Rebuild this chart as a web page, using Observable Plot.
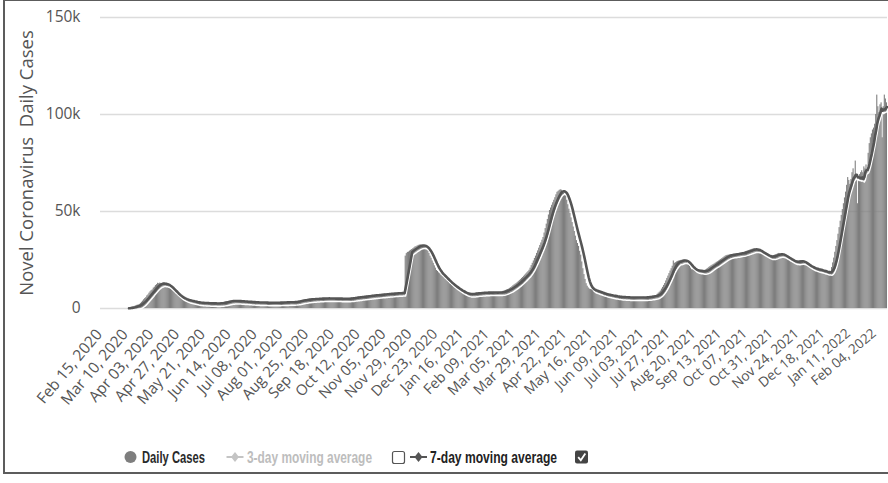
<!DOCTYPE html>
<html>
<head>
<meta charset="utf-8">
<script src="https://cdn.jsdelivr.net/npm/d3@7"></script>
<script src="https://cdn.jsdelivr.net/npm/@observablehq/plot@0.6"></script>
<style>
  html, body { margin: 0; padding: 0; background: #fff; }
  body { width: 888px; height: 483px; position: relative; overflow: hidden; font-family: "Open Sans", sans-serif; }
  #chart { position: absolute; left: 0; top: 0; }
  #ylabel { position: absolute; left: 25px; top: 163px; transform: translate(-50%, -50%) rotate(-90deg);
            white-space: pre; font-size: 18.5px; color: #555; font-family: "Open Sans", sans-serif; }
  #legend { position: absolute; left: 0; top: 432px; }
  #frame { position: absolute; left: 3px; top: -1px; width: 960px; height: 471px; border: 2px solid #5c5c5c; pointer-events: none; }
</style>
</head>
<body>
<div id="chart"></div>
<div id="ylabel"></div>
<svg id="legend" width="888" height="45"></svg>
<div id="frame"></div>
<script>
// ---- data (daily cases, thousands), one value per day from startDate ----
const startDate = "2020-03-12";
const dailyCases = [
  0.1, 0.2, 0.4, 0.6, 0.8, 1.0, 1.2,
  1.5, 1.7, 1.8, 2.0, 2.6, 3.2, 3.8,
  4.5, 5.1, 5.6, 6.5, 7.0, 7.9, 8.6,
  9.2, 9.6, 10.5, 11.0, 11.8, 12.3, 13.0,
  12.8, 13.1, 12.9, 12.7, 13.0, 12.5, 12.3,
  12.4, 11.8, 11.4, 10.6, 10.3, 9.5, 9.0,
  8.4, 7.9, 7.3, 6.9, 6.2, 5.8, 5.5,
  5.3, 5.0, 4.9, 4.6, 4.4, 4.2, 4.0,
  3.9, 3.8, 3.7, 3.6, 3.5, 3.3, 3.2,
  3.1, 3.0, 3.0, 2.9, 2.9, 2.9, 2.8,
  2.8, 2.8, 2.7, 2.7, 2.7, 2.7, 2.6,
  2.7, 2.6, 2.6, 2.6, 2.6, 2.6, 2.6,
  2.7, 2.8, 2.9, 3.0, 3.1, 3.2, 3.4,
  3.5, 3.6, 3.7, 3.8, 3.9, 4.0, 4.0,
  3.9, 3.9, 3.8, 3.8, 3.7, 3.7, 3.7,
  3.6, 3.6, 3.5, 3.5, 3.5, 3.4, 3.4,
  3.4, 3.3, 3.3, 3.2, 3.2, 3.2, 3.1,
  3.1, 3.1, 3.1, 3.1, 3.1, 3.0, 3.0,
  3.0, 3.1, 2.9, 3.0, 3.0, 2.9, 3.0,
  3.0, 2.9, 3.0, 3.1, 3.0, 3.0, 3.0,
  3.0, 3.1, 3.1, 3.1, 3.1, 3.2, 3.2,
  3.2, 3.2, 3.2, 3.3, 3.3, 3.3, 3.3,
  3.4, 3.5, 3.6, 3.7, 3.8, 4.0, 4.1,
  4.2, 4.3, 4.4, 4.5, 4.6, 4.7, 4.7,
  4.7, 4.8, 4.8, 4.9, 4.9, 4.9, 5.0,
  5.0, 5.0, 5.1, 5.1, 5.1, 5.2, 5.2,
  5.2, 5.2, 5.2, 5.2, 5.2, 5.1, 5.1,
  5.1, 5.1, 5.1, 5.1, 5.1, 5.1, 5.1,
  5.1, 5.0, 5.0, 5.0, 5.0, 5.0, 5.0,
  5.1, 5.1, 5.2, 5.3, 5.4, 5.4, 5.5,
  5.6, 5.7, 5.7, 5.8, 5.9, 5.9, 6.0,
  6.1, 6.1, 6.2, 6.3, 6.4, 6.4, 6.5,
  6.6, 6.6, 6.7, 6.8, 6.8, 6.9, 6.9,
  7.0, 7.0, 7.1, 7.1, 7.2, 7.3, 7.3,
  7.4, 7.4, 7.5, 7.5, 7.6, 7.6, 7.7,
  7.7, 7.8, 7.8, 7.8, 7.9, 7.9, 7.9,
  8.0, 8.0, 8.1, 8.1, 8.2,
  27.0, 28.3, 28.9, 29.1, 29.6, 30.0, 30.4,
  30.8, 31.2, 31.7, 31.9, 32.2, 32.5, 32.7,
  32.8, 32.6, 32.4, 32.0, 31.6, 31.2, 30.5,
  29.6, 28.4, 27.0, 25.9, 24.5, 23.3, 22.0,
  20.8, 19.6, 19.1, 18.4, 17.9, 17.2, 16.7,
  16.2, 15.7, 15.0, 14.6, 13.9, 13.4, 12.8,
  12.4, 12.0, 11.6, 11.1, 10.8, 10.3, 9.9,
  9.5, 9.2, 8.9, 8.6, 8.4, 8.1, 7.8,
  7.5, 7.2, 7.3, 7.4, 7.4, 7.5, 7.6,
  7.7, 7.7, 7.8, 7.9, 7.9, 8.0, 8.0,
  8.0, 8.1, 8.1, 8.2, 8.2, 8.2, 8.2,
  8.2, 8.3, 8.2, 8.1, 8.2, 8.3, 8.2,
  8.2, 8.2, 8.2, 8.3, 8.3, 8.4, 8.6,
  8.9, 9.1, 9.3, 9.6, 9.8, 10.0, 10.4,
  10.8, 11.2, 11.7, 12.1, 12.5, 12.9, 13.4,
  13.9, 14.4, 14.9, 15.5, 16.0, 16.6, 17.2,
  17.8, 18.4, 19.0, 19.7, 20.8, 22.1, 23.3,
  24.5, 25.8, 27.0, 28.4, 29.7, 31.1, 32.5,
  33.8, 35.2, 36.6, 38.9, 41.2, 43.5, 45.9,
  48.2, 50.5, 51.8, 53.2, 54.5, 55.8, 57.1,
  58.6, 59.9, 60.4, 60.9, 61.2, 61.0, 60.3,
  59.4, 58.7, 58.0, 55.8, 53.5, 51.2, 49.0,
  46.7, 44.3, 42.0, 39.7, 37.3, 35.0, 33.5,
  32.0, 29.5, 27.5, 24.0, 20.5, 17.5, 15.0,
  12.8, 11.5, 10.6, 10.0, 9.8, 9.6, 9.4,
  9.2, 9.0, 8.8, 8.6, 8.4, 8.2, 8.0,
  7.8, 7.6, 7.5, 7.3, 7.2, 7.0, 6.9,
  6.8, 6.7, 6.6, 6.5, 6.4, 6.3, 6.2,
  6.1, 6.0, 6.0, 5.9, 5.9, 5.8, 5.8,
  5.8, 5.7, 5.7, 5.7, 5.7, 5.6, 5.6,
  5.6, 5.7, 5.7, 5.6, 5.7, 5.7, 5.7,
  5.7, 5.7, 5.7, 5.6, 5.8, 5.7, 5.7,
  5.8, 5.9, 6.0, 6.1, 6.2, 6.3, 6.4,
  6.5, 6.6, 6.7, 7.3, 7.9, 8.4, 9.0,
  10.0, 10.9, 11.9, 12.9, 14.2, 15.5, 16.7,
  18.0, 19.3, 20.5, 21.8, 24.5, 23.3, 23.6,
  24.0, 24.3, 24.5, 24.6, 24.8, 24.9, 25.0,
  25.0, 24.4, 23.8, 23.1, 22.5, 21.7, 20.8,
  20.0, 19.9, 19.8, 19.7, 19.6, 19.5, 19.4,
  19.3, 19.2, 19.2, 19.1, 19.0, 19.4, 19.9,
  20.3, 20.7, 21.2, 21.6, 22.0, 22.3, 22.7,
  23.0, 23.4, 23.8, 24.1, 24.5, 24.9, 25.3,
  25.7, 26.1, 26.5, 26.9, 27.3, 27.4, 27.5,
  27.6, 27.7, 27.7, 27.8, 27.9, 28.0, 28.1,
  28.2, 28.3, 28.4, 28.5, 28.6, 28.8, 28.9,
  29.1, 29.3, 29.5, 29.7, 29.9, 30.1, 30.3,
  30.5, 30.7, 30.9, 30.6, 30.2, 29.9, 29.5,
  29.2, 28.8, 28.5, 28.2, 27.9, 27.6, 27.2,
  26.9, 26.6, 26.3, 26.5, 26.8, 27.0, 27.3,
  27.5, 27.7, 27.9, 28.2, 28.4, 28.1, 27.7,
  27.4, 27.1, 26.7, 26.4, 26.0, 25.7, 25.3,
  25.0, 24.7, 24.4, 24.0, 23.7, 24.0, 24.1,
  24.3, 24.4, 24.6, 24.7, 24.3, 23.8, 23.4,
  22.9, 22.5, 22.2, 21.9, 21.5, 21.2, 20.9,
  20.7, 20.6, 20.4, 20.3, 20.1, 20.0, 19.8,
  19.7, 19.5, 19.3, 19.1, 19.0, 18.8, 18.6,
  18.6, 18.6, 18.6, 18.6, 21.1, 23.5, 26.0,
  29.0, 32.0, 35.0, 38.3, 41.7, 45.0, 48.0,
  51.0, 54.0, 57.0, 60.0, 63.5, 67.5, 66.0,
  64.0, 66.5, 70.0, 72.0, 68.0, 76.0, 66.0,
  54.0, 67.0, 69.0, 70.0, 71.0, 70.0, 73.0,
  72.0, 74.0, 70.0, 80.0, 85.0, 88.0, 90.0,
  92.0, 93.0, 95.0, 100.0, 110.0, 104.0, 101.0,
  105.0, 106.0, 88.0, 104.0, 110.0, 108.0, 106.0
];
const yTicks = [0, 50, 100, 150];
const yTickLabels = ["0", "50k", "100k", "150k"];
const xTickLabels = [
  "Feb 15, 2020", "Mar 10, 2020", "Apr 03, 2020", "Apr 27, 2020", "May 21, 2020", "Jun 14, 2020",
  "Jul 08, 2020", "Aug 01, 2020", "Aug 25, 2020", "Sep 18, 2020", "Oct 12, 2020", "Nov 05, 2020",
  "Nov 29, 2020", "Dec 23, 2020", "Jan 16, 2021", "Feb 09, 2021", "Mar 05, 2021", "Mar 29, 2021",
  "Apr 22, 2021", "May 16, 2021", "Jun 09, 2021", "Jul 03, 2021", "Jul 27, 2021", "Aug 20, 2021",
  "Sep 13, 2021", "Oct 07, 2021", "Oct 31, 2021", "Nov 24, 2021", "Dec 18, 2021", "Jan 11, 2022",
  "Feb 04, 2022"
];
const yAxisTitle = "Novel Coronavirus  Daily Cases";
const legendLabels = ["Daily Cases", "3-day moving average", "7-day moving average"];

// ---- build ----
const start = d3.utcParse("%Y-%m-%d")(startDate);
const data = dailyCases.map((v, i) => ({ date: d3.utcDay.offset(start, i), cases: v }));
const parseTick = d3.utcParse("%b %d, %Y");
const xTicks = xTickLabels.map(parseTick);
const firstDay = xTicks[0];
const lastDay = data[data.length - 1].date;
const nT = xTicks.length - 1;

const chart = Plot.plot({
  width: 888,
  height: 420,
  marginLeft: 100,
  marginRight: 1,
  marginTop: 17,
  marginBottom: 112,
  style: { fontFamily: '"Open Sans", sans-serif', fontSize: "15.5px", color: "#555", background: "transparent", overflow: "visible" },
  x: {
    type: "utc",
    domain: [d3.utcHour.offset(firstDay, -12), d3.utcHour.offset(lastDay, 12)],
    axis: null
  },
  y: {
    domain: [0, 150],
    ticks: yTicks,
    tickFormat: d => yTickLabels[yTicks.indexOf(d)],
    tickSize: 0,
    tickPadding: 20,
    label: null
  },
  marks: [
    Plot.ruleY(yTicks, { stroke: "#dcdcdc", strokeWidth: 1.3 }),
    Plot.rect(data, {
      x1: d => d3.utcHour.offset(d.date, -12),
      x2: d => d3.utcHour.offset(d.date, 12),
      y1: 0,
      y2: "cases",
      fill: "#7e7e7e"
    }),
    Plot.lineY(data, Plot.windowY({ k: 7, anchor: "end" }, { x: "date", y: "cases", stroke: "#ffffff", strokeWidth: 1.5, dx: 1, dy: 3 })),
    Plot.lineY(data, Plot.windowY({ k: 7, anchor: "end" }, { x: "date", y: "cases", stroke: "#555555", strokeWidth: 2.6 })),
    Plot.text(xTicks, {
      x: d => d,
      frameAnchor: "bottom",
      dx: -2,
      dy: 23,
      text: (d, i) => xTickLabels[i],
      textAnchor: "end",
      lineAnchor: "middle",
      rotate: (d, i) => -50 + 10 * i / nT,
      fontSize: (d, i) => 15.5 - 2 * i / nT,
      fill: "#555"
    })
  ]
});
document.getElementById("chart").appendChild(chart);
chart.querySelectorAll("text").forEach(t => t.setAttribute("fill", "#555"));

document.getElementById("ylabel").textContent = yAxisTitle;

// ---- legend ----
const lg = d3.select("#legend");
const font = '"Liberation Sans", Arial, sans-serif';
lg.append("circle").attr("cx", 130.5).attr("cy", 25).attr("r", 6).attr("fill", "#7e7e7e");
lg.append("text").attr("x", 142).attr("y", 30.5).attr("textLength", 63).attr("lengthAdjust", "spacingAndGlyphs")
  .attr("font-family", font).attr("font-weight", "bold").attr("font-size", 16.5).attr("fill", "#2a2a2a").text(legendLabels[0]);

function symbol(cx, color) {
  lg.append("line").attr("x1", cx - 8.5).attr("x2", cx + 8.5).attr("y1", 25).attr("y2", 25).attr("stroke", color).attr("stroke-width", 2);
  lg.append("path").attr("d", `M${cx},${25 - 5} L${cx + 4},25 L${cx},${25 + 5} L${cx - 4},25 Z`).attr("fill", color);
}
symbol(235, "#c4c4c4");
lg.append("text").attr("x", 247).attr("y", 30.5).attr("textLength", 125).attr("lengthAdjust", "spacingAndGlyphs")
  .attr("font-family", font).attr("font-weight", "bold").attr("font-size", 16.5).attr("fill", "#bdbdbd").text(legendLabels[1]);
lg.append("rect").attr("x", 392.5).attr("y", 19.5).attr("width", 12).attr("height", 12).attr("rx", 2)
  .attr("fill", "#fff").attr("stroke", "#555").attr("stroke-width", 1.2);

symbol(418.5, "#555");
lg.append("text").attr("x", 430).attr("y", 30.5).attr("textLength", 127).attr("lengthAdjust", "spacingAndGlyphs")
  .attr("font-family", font).attr("font-weight", "bold").attr("font-size", 16.5).attr("fill", "#222").text(legendLabels[2]);
lg.append("rect").attr("x", 575).attr("y", 18.5).attr("width", 13).attr("height", 13).attr("rx", 2).attr("fill", "#444");
lg.append("path").attr("d", "M578.2,25.2 L580.8,28.3 L585.3,21.5").attr("fill", "none").attr("stroke", "#fff").attr("stroke-width", 1.8);
</script>
</body>
</html>
